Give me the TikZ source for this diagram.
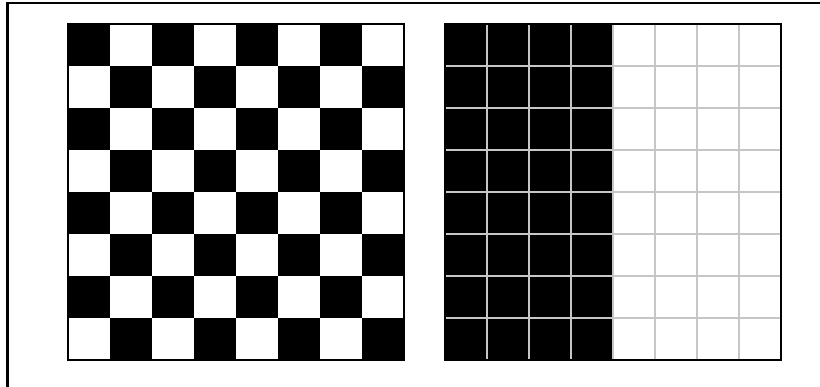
\documentclass[tikz,border=0pt]{standalone}
\usepackage{tikz}
\tikzset{boardedge/.style={line width=0.05cm}, gridline/.style={gray!45,line width=0.032cm}}
\begin{document}
\begin{tikzpicture}[x=1cm,y=1cm]
\useasboundingbox (0,0) rectangle (19.524,9.214);
% Outer frame, left and top edges
\draw[line width=0.06cm] (0.179,0) -- (0.179,9.143) -- (19.524,9.143);
% Left board: checkerboard
\begin{scope}[shift={(1.619,0.643)}]
\foreach \i in {0,...,7} {
  \foreach \j in {0,...,7} {
    \pgfmathparse{int(mod(\i+\j,2))}
    \ifnum\pgfmathresult=1 \fill (\i,\j) rectangle ++(1,1); \fi
  }
}
\draw[boardedge] (0,0) rectangle (8,8);
\end{scope}
% Right board: half black, half white, with grid
\begin{scope}[shift={(10.595,0.643)}]
\fill (0,0) rectangle (4,8);
\draw[gridline] (0,0) grid (8,8);
\draw[boardedge] (0,0) rectangle (8,8);
\end{scope}
\end{tikzpicture}
\end{document}
